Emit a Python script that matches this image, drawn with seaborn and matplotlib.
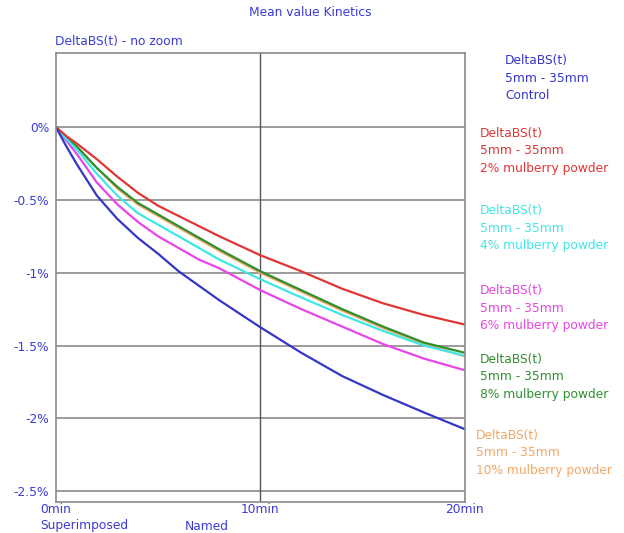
import pandas as pd
import numpy as np
import matplotlib.pyplot as plt
import seaborn as sns

# values (minutes, % DeltaBS)
minutes = [0, 0.5, 1, 2, 3, 4, 5, 6, 7, 8, 10, 12, 14, 16, 18, 20]
control = [0, -0.13, -0.25, -0.47, -0.63, -0.76, -0.87, -0.99, -1.09, -1.19,
           -1.375, -1.55, -1.71, -1.84, -1.96, -2.075]
mul2 = [0, -0.06, -0.11, -0.22, -0.34, -0.45, -0.54, -0.61, -0.68, -0.75,
        -0.88, -0.99, -1.11, -1.21, -1.29, -1.356]
mul4 = [0, -0.08, -0.15, -0.32, -0.47, -0.59, -0.67, -0.75, -0.83, -0.91,
        -1.045, -1.17, -1.29, -1.40, -1.50, -1.57]
mul6 = [0, -0.09, -0.18, -0.38, -0.53, -0.65, -0.75, -0.83, -0.91, -0.97,
        -1.12, -1.25, -1.37, -1.49, -1.59, -1.67]
mul8 = [0, -0.07, -0.13, -0.28, -0.41, -0.52, -0.60, -0.68, -0.76, -0.84,
        -0.99, -1.12, -1.25, -1.37, -1.48, -1.55]
mul10 = [0, -0.07, -0.13, -0.28, -0.42, -0.53, -0.61, -0.69, -0.77, -0.85,
         -1.00, -1.13, -1.26, -1.38, -1.49, -1.575]

series = ["Control", "2% mulberry powder", "4% mulberry powder",
          "6% mulberry powder", "8% mulberry powder", "10% mulberry powder"]
colors = ["#3535c8", "#e03535", "#3ee6e6", "#e845e8", "#2f8f2f", "#f2a766"]

rows = []
for name, vals in zip(series, [control, mul2, mul4, mul6, mul8, mul10]):
    for m, v in zip(minutes, vals):
        rows.append({"min": m, "val": v, "series": name})
df = pd.DataFrame(rows)

sns.set_style("white")
plt.rcParams['font.family'] = ['DejaVu Sans']
txt = "#3a3ad8"
fs = 8.8

fig = plt.figure(figsize=(6.24, 5.33), dpi=100)
ax = fig.add_axes([0.0897, 0.0582, 0.6553, 0.8424])

for y in [0, -0.5, -1, -1.5, -2, -2.5]:
    ax.axhline(y, color="#8a8a8a", lw=1.2, zorder=0)
ax.axvline(10, color="#555555", lw=1, zorder=0)

# blue drawn last so it sits on top like the reference
sns.lineplot(data=df, x="min", y="val", hue="series",
             hue_order=[series[i] for i in [5, 4, 3, 2, 1, 0]],
             palette=[colors[i] for i in [5, 4, 3, 2, 1, 0]],
             linewidth=1.6, legend=False, ax=ax)

ax.set_xlim(0, 20)
ax.set_ylim(-2.575, 0.51)
ax.set_xticks([0, 10, 20])
ax.set_xticklabels(["0min", "10min", "20min"])
ax.set_yticks([0, -0.5, -1, -1.5, -2, -2.5])
ax.set_yticklabels(["0%", "-0.5%", "-1%", "-1.5%", "-2%", "-2.5%"])
ax.tick_params(length=0, colors=txt, labelsize=fs)
ax.tick_params(axis="y", pad=5)
ax.tick_params(axis="x", pad=0.5)
ax.set_xlabel("")
ax.set_ylabel("")
for s in ax.spines.values():
    s.set_color("#8a8a8a")
    s.set_linewidth(1.2)

fig.text(310 / 624, 1 - 12 / 533, "Mean value Kinetics", color=txt, fontsize=fs, ha="center", va="center")
fig.text(55 / 624, 1 - 42 / 533, "DeltaBS(t) - no zoom", color=txt, fontsize=fs, ha="left", va="center")
fig.text(40 / 624, 1 - 526 / 533, "Superimposed", color=txt, fontsize=fs, ha="left", va="center")
fig.text(185 / 624, 1 - 526 / 533, "Named", color=txt, fontsize=fs, ha="left", va="center")

legend_pos = [(505, 78), (480, 151), (480, 228), (480, 308), (480, 377), (476, 453)]
for name, c, (px, py) in zip(series, colors, legend_pos):
    fig.text(px / 624, 1 - py / 533, "DeltaBS(t)\n5mm - 35mm\n" + name,
             color=c, fontsize=fs, ha="left", va="center", linespacing=1.45)

plt.savefig("out.png", dpi=100)
